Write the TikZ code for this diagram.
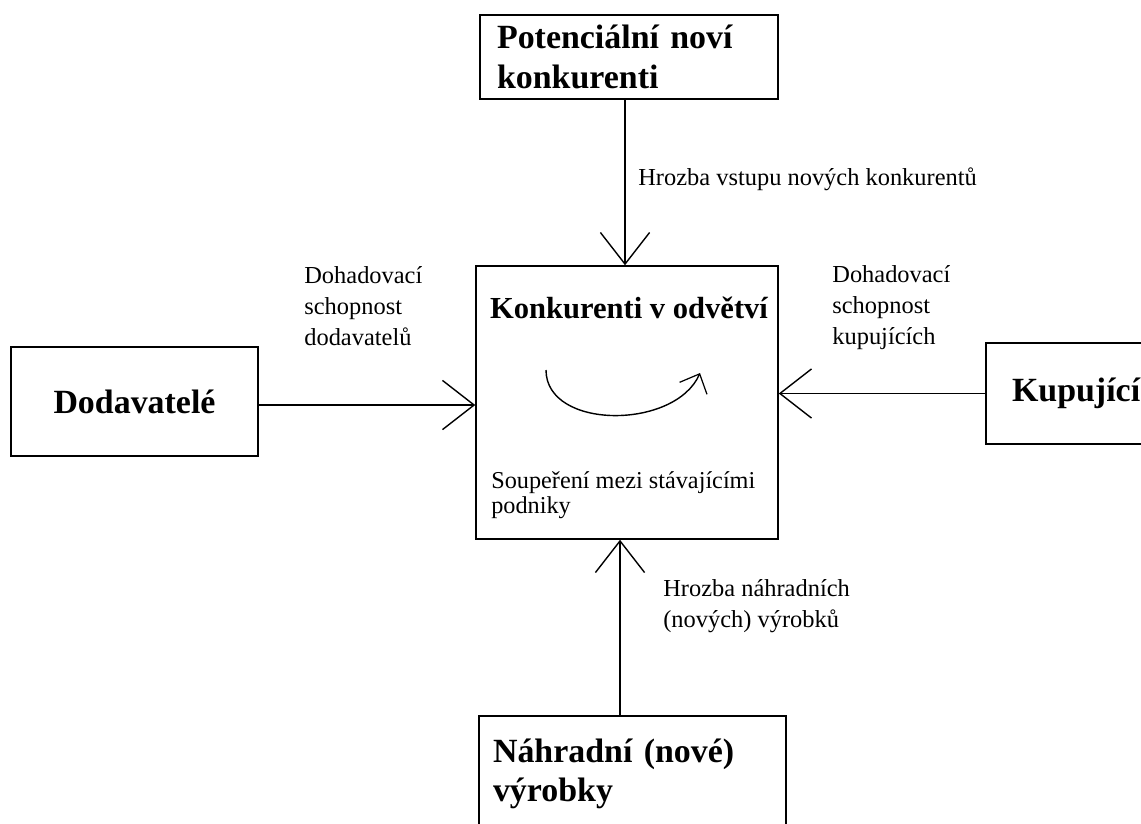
\documentclass[tikz,border=0pt]{standalone}
\usepackage{fontspec}
\setmainfont{Liberation Serif}
\usetikzlibrary{arrows.meta, positioning}
\tikzset{box/.style={rectangle,draw,line width=0.9pt,inner ysep=0pt,align=left},
         bigtext/.style={font=\fontsize{19.3}{22.3}\selectfont\bfseries},
         lbl/.style={font=\fontsize{13.9}{17.4}\selectfont,align=left,inner sep=0pt},
         arrow/.style={-{Straight Barb[length=18pt,width=28pt,line width=0.8pt]},line width=0.9pt}}

\begin{document}
\begin{tikzpicture}[x=0.02cm,y=-0.02cm]
    \useasboundingbox (0,0) rectangle (1141,823);
    % Boxes
    \node (newc) at (629,57) [box,bigtext,minimum width=5.96cm,minimum height=1.68cm,inner xsep=0.34cm,text width=5.28cm]{Potenciální noví\\konkurenti};
    \node (rival) at (627,402.5) [box,minimum width=6.04cm,minimum height=5.46cm]{};
    \node (supp) at (134.5,401.5) [box,bigtext,minimum width=4.94cm,minimum height=2.18cm,align=center]{Dodavatelé};
    \node (buyer) at (1086,393.5) [box,bigtext,minimum width=4cm,minimum height=2.02cm,inner xsep=0.52cm,text width=2.96cm]{Kupující};
    \node (subst) at (632.5,774) [box,bigtext,minimum width=6.14cm,minimum height=2.32cm,inner xsep=0.28cm,text width=5.58cm]{Náhradní (nové)\\výrobky};
    % Inside the middle box
    \node (rivaltitle) at (629,318) [anchor=base,inner sep=0pt,font=\fontsize{17.4}{20}\selectfont\bfseries]{Konkurenti v odvětví};
    \node (rivaltext) at (491,513) [lbl,anchor=base west,font=\fontsize{13.8}{13.8}\selectfont]{Soupeření mezi stávajícími\\podniky};
    \coordinate (arcstart) at (546,370);
    \coordinate (arcend) at (700,373);
    \draw[line width=0.8pt,-{Straight Barb[length=9pt,width=17pt,line width=0.7pt]}] (arcstart) .. controls (546,430) and (675,430) .. (arcend);
    % Arrows
    \draw[arrow] ([xshift=-0.08cm]newc.south) -- ([xshift=-0.08cm]newc.south |- rival.north);
    \draw[arrow] ([yshift=-0.07cm]supp.east) -- ([yshift=-0.07cm]supp.east -| rival.west);
    \draw[arrow] (buyer.west) -- (buyer.west -| rival.east);
    \draw[arrow] ([xshift=-0.25cm]subst.north) -- ([xshift=-0.25cm]subst.north |- rival.south);
    % Labels
    \node (lblnew) at (638,185) [lbl,anchor=base west]{Hrozba vstupu nových konkurentů};
    \node (lblsupp) at (304,345) [lbl,anchor=base west]{Dohadovací\\schopnost\\dodavatelů};
    \node (lblbuyer) at (832,344) [lbl,anchor=base west]{Dohadovací\\schopnost\\kupujících};
    \node (lblsubst) at (663,627) [lbl,anchor=base west]{Hrozba náhradních\\(nových) výrobků};
\end{tikzpicture}
\end{document}
